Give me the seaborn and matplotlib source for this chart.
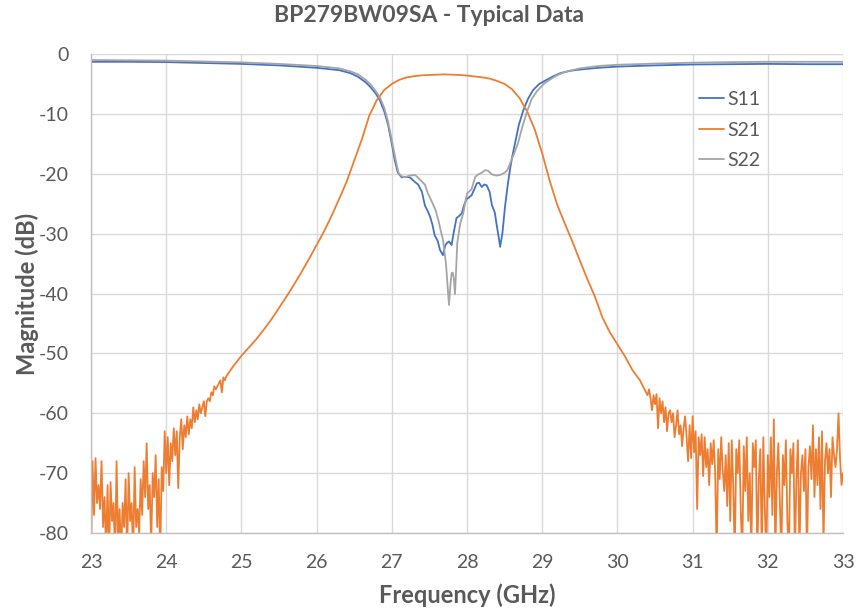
import numpy as np
import pandas as pd
import matplotlib
matplotlib.use("Agg")
import matplotlib.pyplot as plt
import seaborn as sns

# ---------------- data ----------------
s11_freq = [23.0, 23.5, 24.0, 24.5, 25.0, 25.5, 26.0, 26.3, 26.45, 26.55, 26.65, 26.71, 26.78, 26.84,
            26.9, 26.95, 27.0, 27.04, 27.08, 27.13, 27.18, 27.24, 27.3, 27.35, 27.40, 27.44, 27.48,
            27.51, 27.54, 27.57, 27.61, 27.64, 27.68, 27.71, 27.73, 27.76, 27.795, 27.82, 27.86, 27.9,
            27.93, 27.96, 27.99, 28.03, 28.06, 28.10, 28.13, 28.16, 28.195, 28.23, 28.26, 28.3, 28.33,
            28.37, 28.39, 28.42, 28.44, 28.47, 28.505, 28.54, 28.57, 28.6, 28.64, 28.69, 28.75, 28.81,
            28.88, 28.96, 29.06, 29.15, 29.24, 29.37, 29.5, 29.75, 30.0, 30.5, 31.0, 31.5, 32.0, 32.5, 33.0]
s11_db = [-1.3, -1.3, -1.35, -1.5, -1.65, -1.9, -2.3, -2.7, -3.2, -3.8, -4.7, -5.45, -6.5, -7.7,
          -9.6, -11.8, -15.0, -17.8, -19.8, -20.6, -20.5, -20.6, -21.3, -21.8, -23.0, -25.3, -26.3,
          -27.2, -28.5, -30.3, -31.2, -32.7, -33.6, -32.0, -31.6, -31.3, -31.9, -30.0, -27.4, -27.0,
          -26.6, -25.3, -24.3, -23.9, -23.6, -22.5, -21.6, -21.5, -22.2, -21.8, -21.9, -23.0, -25.2,
          -26.5, -28.2, -30.5, -32.2, -30.0, -25.5, -22.0, -19.4, -17.2, -14.8, -11.8, -9.35, -7.5,
          -6.0, -5.0, -4.3, -3.7, -3.2, -2.8, -2.6, -2.3, -2.1, -1.9, -1.75, -1.7, -1.65, -1.7, -1.7]

s22_freq = [23.0, 23.5, 24.0, 24.5, 25.0, 25.5, 26.0, 26.3, 26.45, 26.55, 26.65, 26.72, 26.78, 26.84,
            26.9, 26.95, 27.0, 27.05, 27.09, 27.13, 27.17, 27.24, 27.31, 27.375, 27.44, 27.48, 27.53,
            27.58, 27.62, 27.65, 27.68, 27.7, 27.72, 27.74, 27.76, 27.78, 27.795, 27.81, 27.825, 27.84,
            27.855, 27.87, 27.91, 27.95, 28.0, 28.06, 28.11, 28.15, 28.2, 28.24, 28.28, 28.33, 28.39,
            28.44, 28.49, 28.53, 28.56, 28.59, 28.63, 28.68, 28.73, 28.79, 28.86, 28.93, 29.02, 29.1,
            29.19, 29.28, 29.4, 29.5, 29.75, 30.0, 30.5, 31.0, 31.5, 32.0, 32.5, 33.0]
s22_db = [-1.0, -1.05, -1.1, -1.25, -1.4, -1.65, -2.0, -2.4, -2.9, -3.4, -4.3, -5.1, -6.1, -7.2,
          -9.0, -11.3, -14.4, -17.6, -19.9, -20.4, -20.6, -20.3, -20.2, -21.0, -21.8, -23.3, -24.6,
          -26.0, -27.8, -29.5, -31.0, -33.0, -35.0, -38.5, -41.9, -38.5, -36.6, -36.5, -37.5, -40.1,
          -36.0, -31.6, -28.3, -26.6, -23.3, -22.6, -20.5, -20.1, -19.8, -19.4, -19.5, -20.1, -20.3,
          -20.2, -19.9, -19.5, -18.7, -17.7, -16.5, -14.8, -12.4, -9.9, -7.5, -6.2, -5.0, -4.3,
          -3.6, -3.1, -2.7, -2.4, -2.0, -1.8, -1.6, -1.45, -1.35, -1.3, -1.3, -1.3]

# S21: noisy low band (23.00 .. 24.80, step 0.02)
s21_low_db = [-84, -68, -77, -67.5, -75, -72, -76, -68, -79, -74,
              -83, -72, -84, -71.5, -78, -75, -84, -68, -82, -76,
              -84, -75, -79, -71, -84, -70, -78, -75, -84, -69,
              -79, -76, -80, -71, -77, -68, -74, -65, -76, -72,
              -82, -70, -74, -67, -79, -71, -84, -69, -73, -63,
              -70, -64, -72, -65, -68, -62.5, -67, -63, -72.5, -64,
              -61, -66, -62, -64, -60.5, -63.5, -61, -62.5, -59, -61.5,
              -59.5, -61, -58.5, -60, -59, -58, -60.5, -58, -57.5, -58,
              -56.5, -57, -55.5, -56, -55.5, -55, -54.5, -56.5, -54, -54.5,
              -53.8]
# S21: passband region (24.9 .. 30.4, step 0.1)
s21_mid_db = [-52.0, -50.4, -49.0, -47.6, -46.0, -44.3, -42.4, -40.5, -38.5, -36.4,
              -34.2, -31.9, -29.6, -27.0, -24.2, -21.3, -17.8, -14.3, -10.3, -7.7,
              -6.0, -5.0, -4.3, -3.9, -3.7, -3.55, -3.5, -3.45, -3.4, -3.45,
              -3.5, -3.6, -3.75, -3.9, -4.1, -4.5, -5.0, -5.9, -7.4, -9.6,
              -12.6, -16.6, -21.2, -25.2, -28.3, -31.3, -34.5, -37.6, -40.5, -44.0,
              -46.5, -48.5, -50.5, -52.8, -54.5, -57.0]
# S21: noisy high band (30.42 .. 33.00, step 0.02)
s21_high_db = [-56, -57.5, -59.5, -57, -58.5, -56.8, -62.5, -57.5, -60, -58,
               -61.5, -59, -63, -60, -59.5, -61.5, -60, -64, -62, -59.5,
               -63.5, -62, -65.5, -62.5, -60.5, -64, -68, -62, -67.5, -60.5,
               -66.5, -63, -76, -64, -67, -63.5, -70.5, -64, -69, -66,
               -72, -65, -68.5, -64.5, -70, -84, -66, -71, -64, -69.5,
               -73, -67, -75.5, -65, -78, -64.5, -72, -84, -66, -70,
               -64.5, -76, -84, -65.5, -73, -64, -78, -70, -84, -65,
               -69, -64.5, -84, -71, -66, -84, -64, -76, -84, -67,
               -74, -64, -77, -61, -84, -70, -65, -75, -84, -67,
               -72, -64.5, -78, -84, -66, -70, -65, -84, -71, -64.5,
               -84, -70, -67, -73, -66, -84, -69, -65.5, -71, -62,
               -74, -66, -72, -64, -76, -63, -82, -68, -65, -70,
               -66, -74, -64, -67, -69, -66, -60, -67.5, -72, -70]

x_ticks = [23, 24, 25, 26, 27, 28, 29, 30, 31, 32, 33]
y_ticks = [0, -10, -20, -30, -40, -50, -60, -70, -80]
series_names = ["S11", "S21", "S22"]
colors = {"S11": "#4472C4", "S21": "#ED7D31", "S22": "#A5A5A5"}

# ---------------- assemble ----------------
s21_freq = np.concatenate([
    np.linspace(23.0, 24.8, len(s21_low_db)),
    np.linspace(24.9, 30.4, len(s21_mid_db)),
    np.linspace(30.42, 33.0, len(s21_high_db)),
])
s21_db = np.concatenate([s21_low_db, s21_mid_db, s21_high_db])

df = pd.concat([
    pd.DataFrame({"freq": s11_freq, "mag": s11_db, "param": "S11"}),
    pd.DataFrame({"freq": s21_freq, "mag": s21_db, "param": "S21"}),
    pd.DataFrame({"freq": s22_freq, "mag": s22_db, "param": "S22"}),
], ignore_index=True)

sns.set_theme(style="white")
plt.rcParams["font.family"] = ["Lato", "DejaVu Sans"]

fig = plt.figure(figsize=(8.57, 6.09), dpi=100)
ax = fig.add_axes([0.1062, 0.1248, 0.8775, 0.7865])

sns.lineplot(data=df, x="freq", y="mag", hue="param", hue_order=series_names,
             palette=colors, estimator=None, sort=False, linewidth=1.3, ax=ax)

ax.set_xlim(23, 33)
ax.set_ylim(-80, 0)
ax.set_xticks(x_ticks)
ax.set_yticks(y_ticks)
ax.set_xticklabels([str(t) for t in x_ticks])
ax.set_yticklabels([str(t) for t in y_ticks])
ax.tick_params(axis="x", length=0, labelsize=14, colors="#595959", pad=15)
ax.tick_params(axis="y", length=0, labelsize=14, colors="#595959", pad=16)
ax.grid(True, color="#D9D9D9", linewidth=1.0)
ax.set_axisbelow(True)
for s in ["top", "right"]:
    ax.spines[s].set_visible(False)
for s in ["left", "bottom"]:
    ax.spines[s].set_color("#BFBFBF")
    ax.spines[s].set_linewidth(1.0)

ax.set_xlabel("Frequency (GHz)", fontsize=17, fontweight="bold", color="#595959", labelpad=9)
ax.set_ylabel("Magnitude (dB)", fontsize=17, fontweight="bold", color="#595959", labelpad=0)

leg = ax.legend(loc="upper left", bbox_to_anchor=(0.798, 0.939), frameon=False,
                fontsize=14, handlelength=1.3, handletextpad=0.15, labelspacing=0.7,
                borderaxespad=0)
for t in leg.get_texts():
    t.set_color("#595959")

fig.text(0.5, 0.975, "BP279BW09SA - Typical Data", ha="center", va="center",
         fontsize=16.5, fontweight="bold", color="#595959")

fig.savefig("out.png", dpi=100)
